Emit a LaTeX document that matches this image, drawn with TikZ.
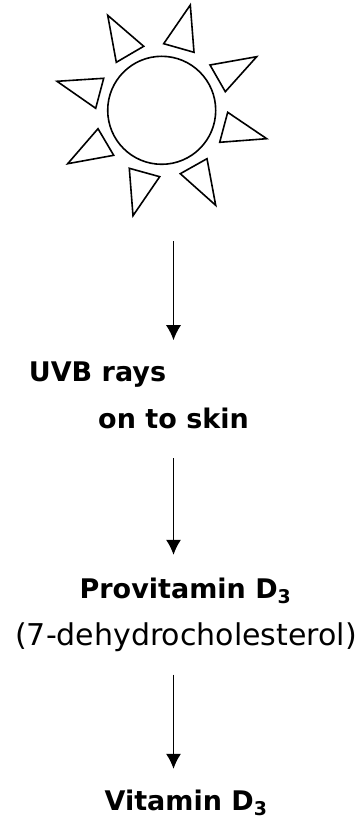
\documentclass[tikz,border=0pt]{standalone}
\usepackage{fontspec}
\setmainfont{DejaVu Sans}
\usetikzlibrary{arrows.meta,positioning,calc}

\begin{document}
\begin{tikzpicture}[x=1pt, y=-1pt, >={Latex[length=15pt,width=15pt]},
  label/.style={inner sep=0pt, outer sep=0pt, font=\fontsize{27}{32}\selectfont\bfseries},
  plain/.style={inner sep=0pt, outer sep=0pt, font=\fontsize{30}{36}\selectfont},
  ray/.style={draw, line width=1.6pt, line join=miter, fill=white},
  line/.style={->, line width=1.5pt}]
\useasboundingbox (0,0) rectangle (362,821);
\node[draw, circle, line width=1.6pt, minimum size=108pt, inner sep=0pt, outer sep=0pt] (sun) at (161.7,110.3) {};
\draw[ray] (107.7,15.3) -- (143.7,46.3) -- (116.3,62.3) -- cycle;
\draw[ray] (190.3,5) -- (194,52.3) -- (163.7,43.7) -- cycle;
\draw[ray] (256.7,56.7) -- (210,65) -- (225.3,91.7) -- cycle;
\draw[ray] (227.7,112.3) -- (266.7,138.7) -- (219.7,142.3) -- cycle;
\draw[ray] (207,158.7) -- (215.7,205.3) -- (180.3,173.7) -- cycle;
\draw[ray] (129.3,168.3) -- (159.7,176.7) -- (133,215.7) -- cycle;
\draw[ray] (98,128.7) -- (113.7,155.3) -- (67.7,163.7) -- cycle;
\draw[ray] (103.7,78.3) -- (95.7,108.3) -- (57,81.3) -- cycle;
\node[label] (uvb) at (97.5,375) {UVB rays};
\node[label] (skin) at (173.5,418) {on to skin};
\node[label] (provit) at (185.5,591) {Provitamin D\textsubscript{3}};
\node[plain] (dehydro) at (186,637) {(7-dehydrocholesterol)};
\node[label] (vitd) at (186,803) {Vitamin D\textsubscript{3}};
\draw[line, shorten <=77pt, shorten >=22pt] (sun.south -| skin) -- (uvb.north -| skin);
\draw[line, shorten <=30pt, shorten >=23pt] (skin.south) -- (skin.south |- provit.north);
\draw[line, shorten <=23pt, shorten >=21pt] (dehydro.south -| skin) -- (vitd.north -| skin);
\end{tikzpicture}
\end{document}
